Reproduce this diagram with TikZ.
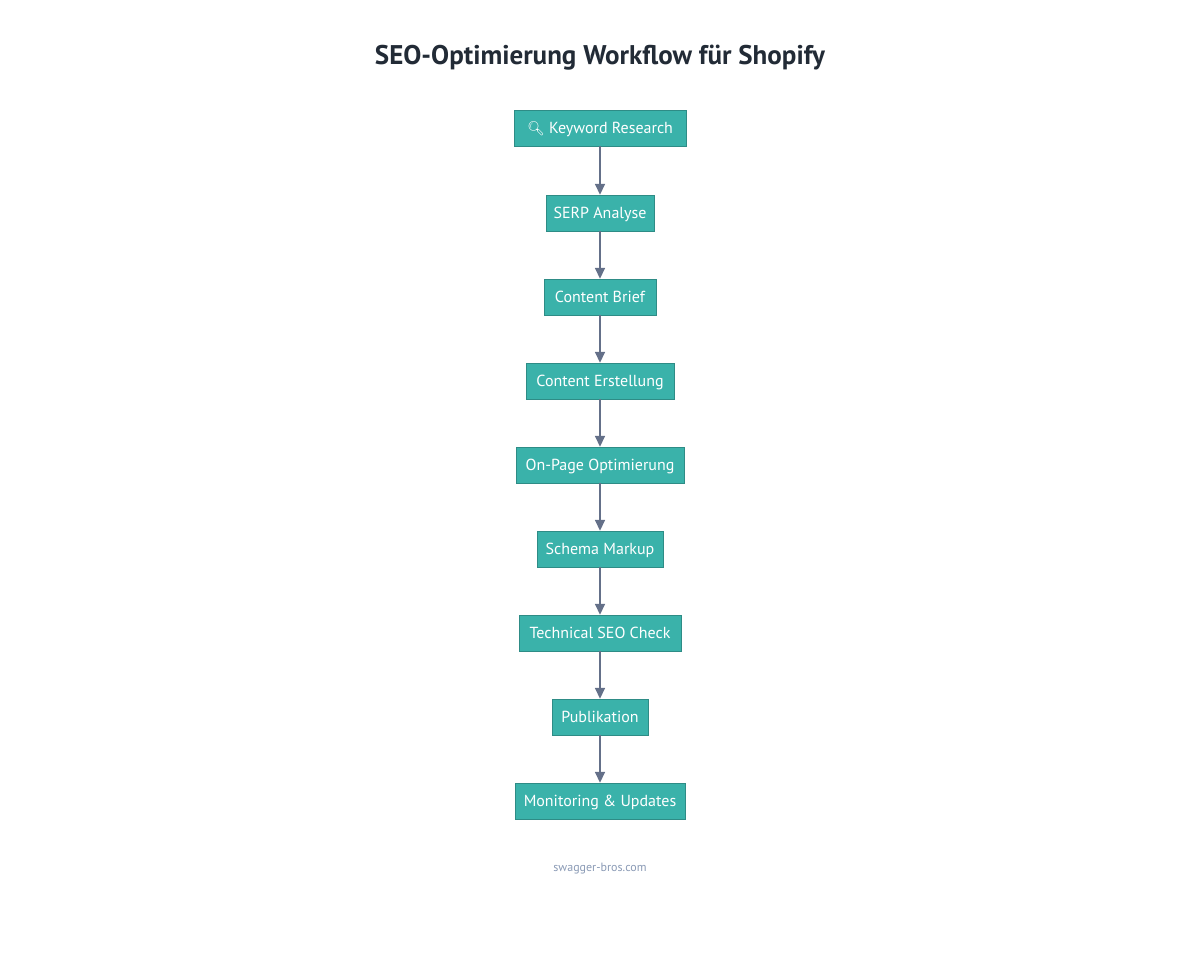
\documentclass[tikz,border=0pt]{standalone}
\usepackage{fontspec}
\setmainfont{PT Sans}
\newfontfamily\emoji{Noto Emoji}
\usetikzlibrary{arrows.meta}
\definecolor{boxfill}{HTML}{3AB2AA}
\definecolor{boxline}{HTML}{2E8C86}
\definecolor{arr}{HTML}{647089}
\definecolor{ttl}{HTML}{222B36}
\definecolor{foot}{HTML}{8A9AB5}
\begin{document}
\begin{tikzpicture}[x=1pt,y=1pt,
  stepbox/.style={draw=boxline,fill=boxfill,text=white,minimum height=36pt,inner sep=0pt,text height=12.5pt,text depth=1.5pt,font=\fontsize{16}{19}\selectfont},
  conn/.style={draw=arr,line width=1.6pt,-{Triangle[length=11pt,width=10pt]}}]
\useasboundingbox (0,0) rectangle (1200,-956);
\node[font=\bfseries\fontsize{27}{32}\selectfont,text=ttl] (title) at (600,-58) {SEO-Optimierung Workflow für Shopify};
\node[stepbox,minimum width=172pt] (n1) at (600,-128) {{\emoji\fontsize{14}{16}\selectfont 🔍}\ Keyword Research};
\node[stepbox,minimum width=108pt] (n2) at (600,-213) {SERP Analyse};
\node[stepbox,minimum width=112pt] (n3) at (600,-297) {Content Brief};
\node[stepbox,minimum width=148pt] (n4) at (600,-381) {Content Erstellung};
\node[stepbox,minimum width=168pt] (n5) at (600,-465) {On-Page Optimierung};
\node[stepbox,minimum width=126pt] (n6) at (600,-549) {Schema Markup};
\node[stepbox,minimum width=162pt] (n7) at (600,-633) {Technical SEO Check};
\node[stepbox,minimum width=96pt] (n8) at (600,-717) {Publikation};
\node[stepbox,minimum width=170pt] (n9) at (600,-801) {Monitoring \& Updates};
\foreach \a/\b in {n1/n2,n2/n3,n3/n4,n4/n5,n5/n6,n6/n7,n7/n8,n8/n9}
  \draw[conn] (\a) -- (\b);
\node[font=\fontsize{12}{14}\selectfont,text=foot] (foot) at (600,-869) {swagger-bros.com};
\end{tikzpicture}
\end{document}
